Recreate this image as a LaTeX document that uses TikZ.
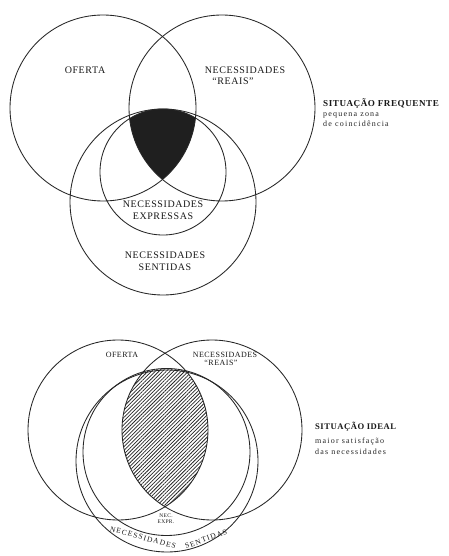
\documentclass[tikz,border=0pt]{standalone}
\usepackage{fontspec}
\setmainfont{Liberation Serif}
\newfontfamily\labfont[LetterSpace=6]{Liberation Serif}
\newfontfamily\subfont[LetterSpace=15]{Liberation Serif}
\newfontfamily\arcfont[LetterSpace=15]{Liberation Serif}
\usetikzlibrary{patterns.meta}
\begin{document}
\begin{tikzpicture}[x=1pt,y=1pt,
  ring/.style={draw=black!85,line width=0.85pt},
  biglab/.style={inner sep=0pt,align=center,text=black!90,font=\fontsize{10}{12}\selectfont\labfont},
  smalllab/.style={inner sep=0pt,align=center,text=black!90,font=\fontsize{8}{9.5}\selectfont\labfont},
  tinylab/.style={inner sep=0pt,align=center,text=black!90,font=\fontsize{5.5}{6.5}\selectfont\labfont},
  arclab/.style={inner sep=0pt,text=black!90,font=\fontsize{7.5}{8}\selectfont\arcfont},
  titlelab/.style={inner sep=0pt,anchor=west,text=black!90},
  sublab/.style={inner sep=0pt,anchor=west,text=black!85,font=\fontsize{8}{9}\selectfont\subfont}]
\useasboundingbox (0,0) rectangle (449,-556);
\fill[white] (0,0) rectangle (449,-556);

% ---------- top diagram ----------
\coordinate (o1) at (103,-108);
\coordinate (r1) at (222,-108);
\coordinate (e1) at (163,-172);
\coordinate (s1) at (163,-202);

\begin{scope}
  \clip (o1) circle[radius=93pt];
  \clip (r1) circle[radius=93pt];
  \clip (s1) circle[radius=93pt];
  \fill[black!88] (e1) circle[radius=63pt];
\end{scope}

\draw[ring] (o1) circle[radius=93pt];
\draw[ring] (r1) circle[radius=93pt];
\draw[ring] (e1) circle[radius=63pt];
\draw[ring] (s1) circle[radius=93pt];

\node[biglab] (oferta1) at (85,-70) {OFERTA};
\node[biglab] (reais1a) at (245,-70) {NECESSIDADES};
\node[biglab] (reais1b) at (233,-81) {“REAIS”};
\node[biglab] (expr1) at (163,-210) {NECESSIDADES\\EXPRESSAS};
\node[biglab] (sent1) at (165,-261) {NECESSIDADES\\SENTIDAS};

\node[titlelab,font=\fontsize{9.1}{11}\selectfont\labfont\bfseries] (tit1) at (323,-104) {SITUAÇÃO FREQUENTE};
\node[sublab] (sub1a) at (323,-115) {pequena zona};
\node[sublab] (sub1b) at (323,-124) {de coincidência};

% ---------- bottom diagram ----------
\coordinate (o2) at (118,-430);
\coordinate (r2) at (212,-430);
\coordinate (e2) at (166.5,-452);
\coordinate (s2) at (167,-461);

\begin{scope}
  \clip (o2) circle[radius=90pt];
  \clip (r2) circle[radius=90pt];
  \fill[pattern={Lines[angle=45,distance=2.6pt,line width=0.75pt]},pattern color=black!85] (e2) circle[radius=83.5pt];
\end{scope}

\draw[ring] (o2) circle[radius=90pt];
\draw[ring] (r2) circle[radius=90pt];
\draw[ring] (e2) circle[radius=83.5pt];
\draw[ring] (s2) circle[radius=91pt];

\node[smalllab] (oferta2) at (122,-355) {OFERTA};
\node[smalllab] (reais2a) at (225,-355) {NECESSIDADES};
\node[smalllab] (reais2b) at (221,-363) {“REAIS”};
\node[tinylab] (expr2) at (166,-518.5) {NEC.\\EXPR.};

\node[arclab,rotate=-15] (sent2a) at (143,-537.5) {NECESSIDADES};
\node[arclab,rotate=20] (sent2b) at (206,-539) {SENTIDAS};

\node[titlelab,font=\fontsize{8.6}{10}\selectfont\labfont\bfseries] (tit2) at (315,-427) {SITUAÇÃO IDEAL};
\node[sublab] (sub2a) at (315,-442) {maior satisfação};
\node[sublab] (sub2b) at (315,-452) {das necessidades};
\end{tikzpicture}
\end{document}
